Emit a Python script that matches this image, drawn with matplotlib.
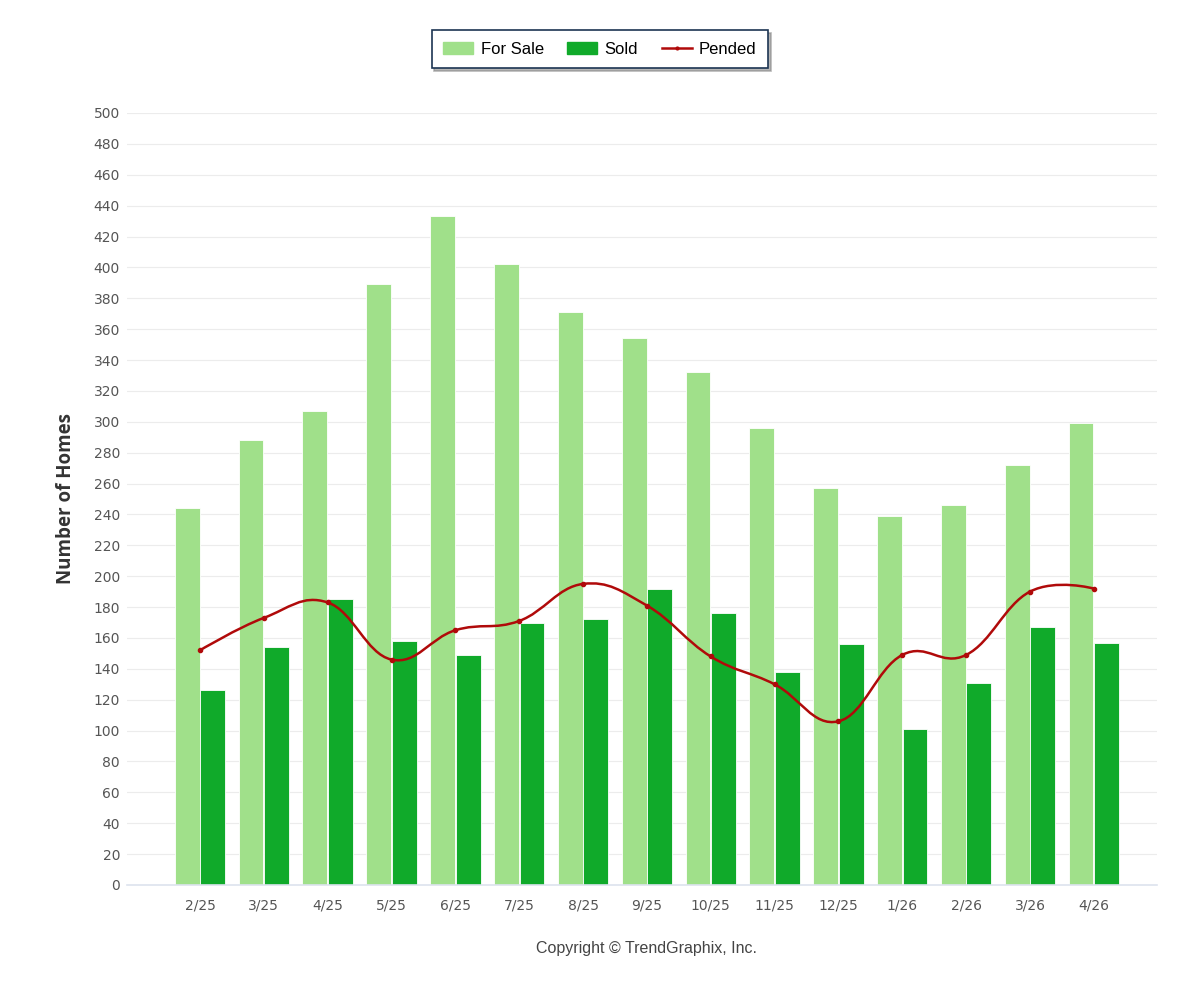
import numpy as np
import matplotlib
matplotlib.use('Agg')
import matplotlib.pyplot as plt
from matplotlib.path import Path
from matplotlib.patches import PathPatch
from matplotlib.lines import Line2D
from matplotlib import font_manager

months = ['2/25', '3/25', '4/25', '5/25', '6/25', '7/25', '8/25', '9/25',
          '10/25', '11/25', '12/25', '1/26', '2/26', '3/26', '4/26']
for_sale = [244, 288, 307, 389, 433, 402, 371, 354, 332, 296, 257, 239, 246, 272, 299]
sold = [126, 154, 185, 158, 149, 170, 172, 192, 176, 138, 156, 101, 131, 167, 157]
pended = [152, 173, 183, 146, 165, 171, 195, 181, 148, 130, 106, 149, 149, 190, 192]

c_sale = '#a0e08a'
c_sold = '#10aa2a'
c_pend = '#b00a0a'

names = {f.name for f in font_manager.fontManager.ttflist}
tick_font = 'Liberation Sans Narrow' if 'Liberation Sans Narrow' in names else 'DejaVu Sans'


def spline_path(xs, ys, smoothing=1.5):
    # bezier spline through every point, control points like highcharts (no clamping)
    denom = smoothing + 1
    n = len(xs)
    lc = [(x, y) for x, y in zip(xs, ys)]
    rc = [(x, y) for x, y in zip(xs, ys)]
    for i in range(1, n - 1):
        x, y = xs[i], ys[i]
        lx, ly = xs[i - 1], ys[i - 1]
        nx, ny = xs[i + 1], ys[i + 1]
        lcx = (smoothing * x + lx) / denom
        lcy = (smoothing * y + ly) / denom
        rcx = (smoothing * x + nx) / denom
        rcy = (smoothing * y + ny) / denom
        corr = ((rcy - lcy) * (rcx - x)) / (rcx - lcx) + y - rcy
        lc[i] = (lcx, lcy + corr)
        rc[i] = (rcx, rcy + corr)
    verts = [(xs[0], ys[0])]
    codes = [Path.MOVETO]
    for i in range(1, n):
        verts += [rc[i - 1], lc[i], (xs[i], ys[i])]
        codes += [Path.CURVE4] * 3
    return Path(verts, codes)


fig = plt.figure(figsize=(12, 10), dpi=100)
ax = fig.add_axes([127 / 1200, 1 - 885 / 1000, 1030 / 1200, 772 / 1000])

x = np.arange(len(months))
w = 0.39
ax.bar(x - 0.2, for_sale, w, color=c_sale, edgecolor='white', linewidth=0.6, zorder=2)
ax.bar(x + 0.2, sold, w, color=c_sold, edgecolor='white', linewidth=0.6, zorder=2)

ax.add_patch(PathPatch(spline_path(list(x), pended), facecolor='none',
                       edgecolor=c_pend, lw=1.8, zorder=3))
ax.plot(x, pended, 'o', color=c_pend, ms=3, zorder=4)

ax.set_xlim(-1.143, 14.99)
ax.set_ylim(0, 500)
ax.set_yticks(np.arange(0, 501, 20))
ax.set_xticks(x)
ax.set_xticklabels(months)
ax.grid(axis='y', color='#ececec', lw=0.8, zorder=0)
for s in ['top', 'right', 'left']:
    ax.spines[s].set_visible(False)
ax.spines['bottom'].set_color('#dde3ee')
ax.spines['bottom'].set_linewidth(1.2)
ax.tick_params(axis='y', length=0, pad=5, labelsize=10, labelcolor='#555555')
ax.tick_params(axis='x', length=0, pad=10, labelsize=10, labelcolor='#555555')
for lab in ax.get_xticklabels() + ax.get_yticklabels():
    lab.set_family(tick_font)

fig.text(66 / 1200, 1 - 499 / 1000, 'Number of Homes', rotation=90, ha='center',
         va='center', fontsize=13.5, fontweight='bold', color='#333333', family='Open Sans')
fig.text(647 / 1200, 1 - 949 / 1000, 'Copyright \u00a9 TrendGraphix, Inc.', ha='center',
         va='center', fontsize=11.5, color='#444444', family='Liberation Sans')

handles = [plt.Rectangle((0, 0), 1, 1, color=c_sale),
           plt.Rectangle((0, 0), 1, 1, color=c_sold),
           Line2D([0], [0], color=c_pend, lw=1.8, marker='o', ms=2)]
leg = fig.legend(handles, ['For Sale', 'Sold', 'Pended'], loc='center',
                 bbox_to_anchor=(600 / 1200, 1 - 49 / 1000), ncol=3, frameon=True,
                 fancybox=False, shadow={'color': '#888888', 'alpha': 0.6},
                 prop={'family': 'Liberation Sans', 'size': 12},
                 handlelength=1.8, handleheight=0.75, columnspacing=1.4,
                 handletextpad=0.45, borderpad=0.7, borderaxespad=0)
leg.get_frame().set_edgecolor('#1c3553')
leg.get_frame().set_linewidth(1.2)

fig.savefig('out.png', dpi=100, facecolor='white')
